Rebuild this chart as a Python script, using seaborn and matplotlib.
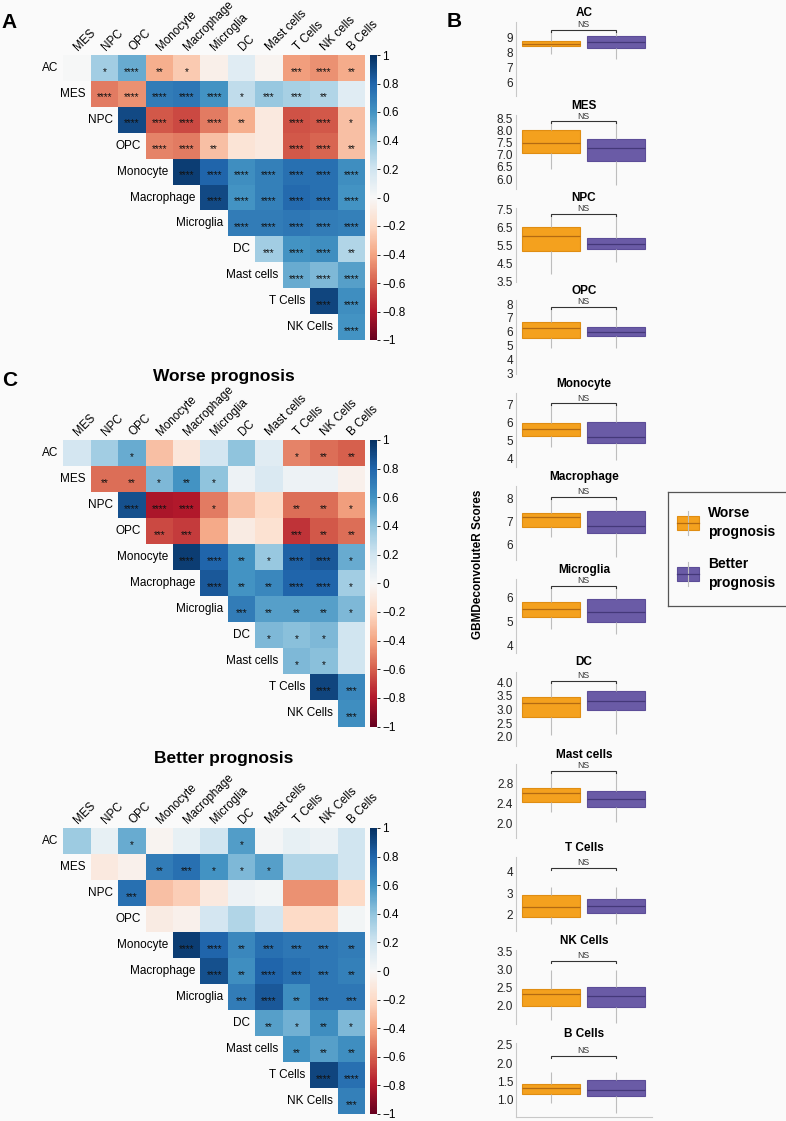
import numpy as np
import pandas as pd
import matplotlib
matplotlib.use("Agg")
import matplotlib.pyplot as plt
import seaborn as sns
from matplotlib.patches import Rectangle

plt.rcParams['font.family'] = ['Liberation Sans', 'DejaVu Sans']
plt.rcParams['axes.unicode_minus'] = True

# ---------------- DATA ----------------
row_labels = ["AC", "MES", "NPC", "OPC", "Monocyte", "Macrophage", "Microglia",
              "DC", "Mast cells", "T Cells", "NK Cells"]
col_labels_A = ["MES", "NPC", "OPC", "Monocyte", "Macrophage", "Microglia", "DC",
                "Mast cells", "T Cells", "NK cells", "B Cells"]
col_labels_C = ["MES", "NPC", "OPC", "Monocyte", "Macrophage", "Microglia", "DC",
                "Mast cells", "T Cells", "NK Cells", "B Cells"]

# Panel A: all samples (upper triangle, row i starts at column i)
corr_all = [
    [0.00, 0.35, 0.50, -0.36, -0.26, -0.06, 0.12, -0.03, -0.42, -0.46, -0.37],
    [-0.52, -0.46, 0.70, 0.72, 0.60, 0.25, 0.38, 0.33, 0.30, 0.12],
    [0.90, -0.62, -0.66, -0.52, -0.36, -0.10, -0.64, -0.62, -0.30],
    [-0.50, -0.52, -0.30, -0.14, -0.10, -0.62, -0.58, -0.30],
    [0.95, 0.80, 0.62, 0.68, 0.75, 0.75, 0.62],
    [0.90, 0.60, 0.68, 0.78, 0.75, 0.60],
    [0.70, 0.70, 0.72, 0.70, 0.68],
    [0.35, 0.60, 0.62, 0.30],
    [0.50, 0.45, 0.55],
    [0.92, 0.62],
    [0.60],
]
stars_all = [
    ["", "*", "****", "**", "*", "", "", "", "***", "****", "**"],
    ["****", "****", "****", "****", "****", "*", "***", "***", "**", ""],
    ["****", "****", "****", "****", "**", "", "****", "****", "*"],
    ["****", "****", "**", "", "", "****", "****", "**"],
    ["****", "****", "****", "****", "****", "****", "****"],
    ["****", "****", "****", "****", "****", "****"],
    ["****", "****", "****", "****", "****"],
    ["***", "****", "****", "**"],
    ["****", "****", "****"],
    ["****", "****"],
    ["****"],
]

# Panel C: worse prognosis
corr_worse = [
    [0.18, 0.35, 0.50, -0.30, -0.12, 0.18, 0.40, 0.12, -0.50, -0.56, -0.60],
    [-0.56, -0.56, 0.45, 0.60, 0.40, 0.05, 0.15, 0.05, 0.05, -0.05],
    [0.88, -0.82, -0.80, -0.52, -0.30, -0.20, -0.56, -0.56, -0.42],
    [-0.66, -0.70, -0.38, -0.08, -0.15, -0.72, -0.62, -0.56],
    [0.95, 0.80, 0.60, 0.38, 0.82, 0.85, 0.50],
    [0.85, 0.60, 0.65, 0.80, 0.80, 0.35],
    [0.70, 0.55, 0.55, 0.55, 0.45],
    [0.45, 0.42, 0.45, 0.20],
    [0.45, 0.42, 0.20],
    [0.92, 0.65],
    [0.62],
]
stars_worse = [
    ["", "", "*", "", "", "", "", "", "*", "**", "**"],
    ["**", "**", "*", "**", "*", "", "", "", "", ""],
    ["****", "****", "****", "*", "", "", "**", "**", "*"],
    ["***", "***", "", "", "", "***", "**", "**"],
    ["****", "****", "**", "*", "****", "****", "*"],
    ["****", "**", "**", "****", "****", "*"],
    ["***", "**", "**", "**", "*"],
    ["*", "*", "*", ""],
    ["*", "*", ""],
    ["****", "***"],
    ["***"],
]

# Panel C: better prognosis
corr_better = [
    [0.36, 0.08, 0.50, -0.03, 0.08, 0.20, 0.56, 0.02, 0.08, 0.06, 0.20],
    [-0.10, -0.05, 0.70, 0.75, 0.60, 0.45, 0.55, 0.30, 0.30, 0.20],
    [0.75, -0.30, -0.25, -0.10, 0.05, 0.03, -0.46, -0.46, -0.20],
    [-0.08, -0.05, 0.18, 0.30, 0.18, -0.20, -0.20, 0.03],
    [0.95, 0.80, 0.65, 0.75, 0.72, 0.72, 0.70],
    [0.88, 0.62, 0.80, 0.75, 0.72, 0.68],
    [0.70, 0.85, 0.62, 0.72, 0.72],
    [0.55, 0.48, 0.62, 0.45],
    [0.60, 0.55, 0.62],
    [0.92, 0.75],
    [0.68],
]
stars_better = [
    ["", "", "*", "", "", "", "*", "", "", "", ""],
    ["", "", "**", "***", "*", "*", "*", "", "", ""],
    ["***", "", "", "", "", "", "", "", ""],
    ["", "", "", "", "", "", "", ""],
    ["****", "****", "**", "***", "***", "***", "**"],
    ["****", "**", "****", "***", "***", "**"],
    ["***", "****", "**", "***", "***"],
    ["**", "*", "**", "*"],
    ["**", "**", "**"],
    ["****", "****"],
    ["***"],
]

# Panel B: box statistics [min, Q1, median, Q3, max]
box_celltypes = ["AC", "MES", "NPC", "OPC", "Monocyte", "Macrophage", "Microglia",
                 "DC", "Mast cells", "T Cells", "NK Cells", "B Cells"]
groups = ["Worse prognosis", "Better prognosis"]
worse_stats = [
    [7.87, 8.40, 8.55, 8.75, 9.45],
    [6.43, 7.06, 7.50, 8.00, 8.35],
    [3.90, 5.20, 6.00, 6.50, 7.20],
    [4.80, 5.57, 6.25, 6.72, 7.70],
    [4.67, 5.25, 5.64, 5.95, 7.00],
    [6.35, 6.78, 7.20, 7.36, 8.00],
    [4.69, 5.18, 5.49, 5.80, 6.42],
    [2.06, 2.71, 3.23, 3.47, 4.00],
    [2.23, 2.42, 2.60, 2.70, 3.00],
    [1.60, 1.92, 2.37, 2.92, 3.30],
    [1.60, 1.99, 2.32, 2.46, 3.00],
    [0.91, 1.17, 1.32, 1.43, 1.77],
]
better_stats = [
    [7.53, 8.27, 8.70, 9.07, 9.45],
    [5.75, 6.76, 7.28, 7.66, 8.35],
    [4.58, 5.30, 5.58, 5.90, 7.20],
    [4.80, 5.71, 6.00, 6.36, 7.70],
    [3.95, 4.86, 5.18, 6.04, 7.00],
    [5.50, 6.52, 6.83, 7.45, 8.00],
    [4.45, 4.97, 5.39, 5.92, 6.42],
    [2.09, 2.98, 3.31, 3.68, 4.00],
    [2.03, 2.32, 2.48, 2.65, 3.00],
    [1.60, 2.08, 2.43, 2.74, 3.30],
    [1.51, 1.96, 2.26, 2.51, 3.00],
    [0.64, 1.12, 1.26, 1.55, 1.77],
]
bracket_y = [9.50, 8.38, 7.25, 7.78, 7.05, 8.07, 6.46, 4.05, 3.05, 4.18, 3.25, 2.21]
test_label = ["NS"] * 12
ylims = [(5.06, 10.03), (5.60, 8.64), (3.50, 7.58), (2.92, 8.26), (3.55, 7.59),
         (5.35, 8.53), (3.68, 6.76), (1.67, 4.39), (1.70, 3.18), (1.25, 4.67),
         (1.49, 3.55), (0.54, 2.56)]
yticks = [[6, 7, 8, 9], [6.0, 6.5, 7.0, 7.5, 8.0, 8.5], [3.5, 4.5, 5.5, 6.5, 7.5],
          [3, 4, 5, 6, 7, 8], [4, 5, 6, 7], [6, 7, 8], [4, 5, 6],
          [2.0, 2.5, 3.0, 3.5, 4.0], [2.0, 2.4, 2.8], [2, 3, 4],
          [2.0, 2.5, 3.0, 3.5], [1.0, 1.5, 2.0, 2.5]]

# ---------------- FIGURE ----------------
BG = "#FAFAFA"
W, H = 786, 1121
fig = plt.figure(figsize=(W / 100, H / 100), dpi=100, facecolor=BG)


def add_ax(x0, y0, x1, y1):
    return fig.add_axes([x0 / W, 1 - y1 / H, (x1 - x0) / W, (y1 - y0) / H])


def draw_corr(vals, stars, col_labels, top, bottom):
    n = len(row_labels)
    mat = np.full((n, n), np.nan)
    ann = np.full((n, n), "", dtype=object)
    for i, (v, s) in enumerate(zip(vals, stars)):
        mat[i, i:] = v
        ann[i, i:] = s
    df = pd.DataFrame(mat, index=row_labels, columns=col_labels)
    ax = add_ax(63.3, top, 365, bottom)
    cax = add_ax(369.5, top, 376.5, bottom)
    sns.heatmap(df, mask=np.isnan(mat), cmap="RdBu", vmin=-1, vmax=1,
                annot=ann, fmt="", annot_kws={"size": 7.3, "color": "#111111"},
                cbar_ax=cax, xticklabels=False, yticklabels=False, ax=ax)
    ax.patch.set_visible(False)
    for t in ax.texts:
        x, y = t.get_position()
        t.set_position((x, y + 0.14))
    ax.tick_params(length=0)
    ax.set_xlabel("")
    ax.set_ylabel("")
    for i, lab in enumerate(row_labels):
        ax.text(i - 0.18, i + 0.5, lab, ha="right", va="center", fontsize=8.5,
                clip_on=False)
    for j, lab in enumerate(col_labels):
        ax.text(j + 0.62, -0.06, lab, ha="left", va="bottom", rotation=45,
                rotation_mode="anchor", fontsize=8.4, clip_on=False)
    cbar = ax.collections[0].colorbar
    ticks = np.round(np.linspace(-1, 1, 11), 1)
    cbar.set_ticks(ticks)
    labs = []
    for t in ticks:
        if abs(t) < 1e-9:
            labs.append("0")
        elif abs(abs(t) - 1) < 1e-9:
            labs.append(("−" if t < 0 else "") + "1")
        else:
            labs.append(("−" if t < 0 else "") + f"{abs(t):.1f}")
    cbar.set_ticklabels(labs)
    cbar.outline.set_visible(False)
    cax.tick_params(labelsize=8.5, length=2, width=0.6, pad=2)
    return ax


draw_corr(corr_all, stars_all, col_labels_A, 55, 340)
draw_corr(corr_worse, stars_worse, col_labels_C, 440, 726.5)
draw_corr(corr_better, stars_better, col_labels_C, 828, 1114)

fig.text(224 / W, 1 - 377 / H, "Worse prognosis", ha="center", va="center",
         fontsize=12.5, fontweight="bold")
fig.text(224 / W, 1 - 758 / H, "Better prognosis", ha="center", va="center",
         fontsize=12.5, fontweight="bold")

fig.text(9.5 / W, 1 - 22.5 / H, "A", ha="center", va="center", fontsize=15, fontweight="bold")
fig.text(454.5 / W, 1 - 21.5 / H, "B", ha="center", va="center", fontsize=15, fontweight="bold")
fig.text(9.5 / W, 1 - 380.5 / H, "C", ha="center", va="center", fontsize=15, fontweight="bold")

# ---------------- PANEL B ----------------
fills = {"Worse prognosis": "#F4A11E", "Better prognosis": "#6A5BA6"}
edges = {"Worse prognosis": "#E08D12", "Better prognosis": "#5C4D98"}
medians = {"Worse prognosis": "#B36A12", "Better prognosis": "#443879"}

for k, ct in enumerate(box_celltypes):
    top = 22 + 92.8 * k
    ax = add_ax(516, top, 652, top + 74)
    df = pd.DataFrame({
        "group": [groups[0]] * 5 + [groups[1]] * 5,
        "score": worse_stats[k] + better_stats[k],
    })
    for g in groups:
        sns.boxplot(data=df[df["group"] == g], x="group", y="score", order=groups,
                    color=fills[g], linecolor=edges[g], saturation=1, width=0.9,
                    whis=(0, 100), showcaps=False, linewidth=0.8, fliersize=0,
                    whiskerprops={"color": "#BDBDBD", "linewidth": 0.8},
                    medianprops={"color": medians[g], "linewidth": 0.9},
                    ax=ax)
    ax.set_xlim(-35 / 65, 1 + 36 / 65)
    ax.set_ylim(*ylims[k])
    tk = yticks[k]
    ax.set_yticks(tk)
    if all(isinstance(v, int) for v in tk):
        ax.set_yticklabels([f"{v:d}" for v in tk])
    else:
        ax.set_yticklabels([f"{v:.1f}" for v in tk])
    ax.tick_params(axis="y", length=0, pad=2, labelsize=8.5, labelcolor="#222222")
    ax.set_xticks([])
    ax.set_xlabel("")
    ax.set_ylabel("")
    ax.patch.set_visible(False)
    for s in ["top", "right"]:
        ax.spines[s].set_visible(False)
    ax.spines["left"].set_color("#C8C8C8")
    ax.spines["left"].set_linewidth(0.8)
    if k == len(box_celltypes) - 1:
        ax.spines["bottom"].set_color("#C8C8C8")
        ax.spines["bottom"].set_linewidth(0.8)
    else:
        ax.spines["bottom"].set_visible(False)
    ax.set_title(ct, fontsize=8.5, fontweight="bold", pad=4.5)
    ppu = 74 / (ylims[k][1] - ylims[k][0])
    b = bracket_y[k]
    d = 2.2 / ppu
    ax.plot([0, 0, 1, 1], [b - d, b, b, b - d], color="#333333", lw=0.8,
            clip_on=False, solid_joinstyle="miter")
    ax.annotate(test_label[k], (0.5, b), xytext=(0, 0.4), textcoords="offset points",
                ha="center", va="bottom", fontsize=6.3, color="#333333")

fig.text(478 / W, 1 - 564 / H, "GBMDeconvoluteR Scores", rotation=90,
         ha="center", va="center", fontsize=8.5, fontweight="bold")

# Legend
lax = add_ax(668, 492, 800, 606)
lax.set_xlim(668, 800)
lax.set_ylim(606, 492)
lax.set_xticks([])
lax.set_yticks([])
lax.patch.set_visible(False)
for s in lax.spines.values():
    s.set_color("#555555")
    s.set_linewidth(0.9)
for g, yc, l1 in [(groups[0], 523.5, "Worse"), (groups[1], 574.5, "Better")]:
    lax.plot([688, 688], [yc - 12, yc + 12], color="#BDBDBD", lw=0.8)
    lax.add_patch(Rectangle((677, yc - 7), 22, 14, facecolor=fills[g],
                            edgecolor=edges[g], lw=0.8))
    lax.plot([677, 699], [yc, yc], color=medians[g], lw=0.9)
    lax.text(708, yc - 10, l1, ha="left", va="center", fontsize=10, fontweight="bold")
    lax.text(708, yc + 9, "prognosis", ha="left", va="center", fontsize=10,
             fontweight="bold")

fig.savefig("out.png", dpi=100, facecolor=BG)
